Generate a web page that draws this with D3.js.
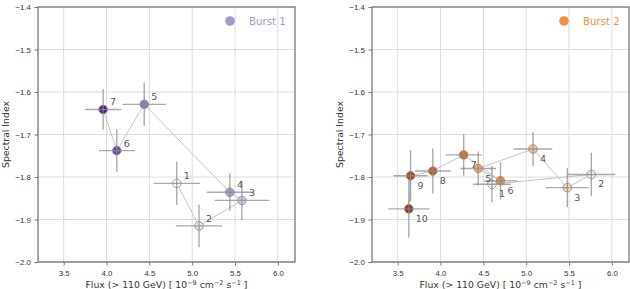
<!DOCTYPE html>
<html>
<head>
<meta charset="utf-8">
<script src="https://cdn.jsdelivr.net/npm/d3@7"></script>
<style>
  body { margin: 0; background: #fff; }
  svg { font-family: "DejaVu Sans", sans-serif; }
</style>
</head>
<body>
<script>
// burst 1
let b1Flux  = [4.82, 5.08, 5.58, 5.44, 4.44, 4.12, 3.96]
let b1FluxErr = [0.27, 0.27, 0.32, 0.27, 0.255, 0.21, 0.21]
let b1Index = [-1.815, -1.915, -1.855, -1.836, -1.629, -1.738, -1.641]
let b1IndexErr = [0.051, 0.05, 0.046, 0.044, 0.051, 0.05, 0.048]

// burst 2
let b2Flux  = [4.60, 5.76, 5.48, 5.08, 4.44, 4.70, 4.27, 3.91, 3.65, 3.63]
let b2FluxErr = [0.22, 0.28, 0.25, 0.225, 0.21, 0.195, 0.21, 0.21, 0.2, 0.24]
let b2Index = [-1.817, -1.794, -1.825, -1.734, -1.780, -1.809, -1.748, -1.786, -1.797, -1.875]
let b2IndexErr = [0.043, 0.051, 0.046, 0.04, 0.04, 0.044, 0.049, 0.053, 0.06, 0.068]

let xTicks = [3.5, 4.0, 4.5, 5.0, 5.5, 6.0]
let yTicks = [-1.4, -1.5, -1.6, -1.7, -1.8, -1.9, -2.0]

let width = 630
let height = 289

let svg = d3.select("body").append("svg")
    .attr("width", width)
    .attr("height", height)

drawPanel({
    flux: b1Flux, fluxErr: b1FluxErr, index: b1Index, indexErr: b1IndexErr,
    left: 38, right: 295, cmap: d3.interpolatePurples,
    name: "Burst 1", labelDx: 7, labelDy: -4, legendX: 230
})
drawPanel({
    flux: b2Flux, fluxErr: b2FluxErr, index: b2Index, indexErr: b2IndexErr,
    left: 372, right: 629, cmap: d3.interpolateOranges,
    name: "Burst 2", labelDx: 7, labelDy: 13, legendX: 564
})

function drawPanel(p) {
    let top = 7, bottom = 262
    let n = p.flux.length
    let pts = d3.range(n).map(i => ({
        i: i, x: p.flux[i], xe: p.fluxErr[i], y: p.index[i], ye: p.indexErr[i]
    }))

    let x = d3.scaleLinear().domain([3.2, 6.2]).range([p.left, p.right])
    let y = d3.scaleLinear().domain([-2.0, -1.4]).range([bottom, top])

    let g = svg.append("g")

    // grid
    g.append("g").selectAll("line").data(xTicks).enter().append("line")
        .attr("x1", d => x(d)).attr("x2", d => x(d))
        .attr("y1", top).attr("y2", bottom)
        .attr("stroke", "#dcdcdc").attr("stroke-width", 1)
    g.append("g").selectAll("line").data(yTicks).enter().append("line")
        .attr("x1", p.left).attr("x2", p.right)
        .attr("y1", d => y(d)).attr("y2", d => y(d))
        .attr("stroke", "#dcdcdc").attr("stroke-width", 1)

    // axes
    let xAxis = g.append("g")
        .attr("transform", `translate(0,${bottom})`)
        .call(d3.axisBottom(x).tickValues(xTicks).tickFormat(d3.format(".1f")).tickSizeOuter(0).tickSize(3.5))
    let yAxis = g.append("g")
        .attr("transform", `translate(${p.left},0)`)
        .call(d3.axisLeft(y).tickValues(yTicks).tickFormat(d3.format(".1f")).tickSizeOuter(0).tickSize(3.5))
    ;[xAxis, yAxis].forEach(a => {
        a.select(".domain").remove()
        a.selectAll(".tick line").attr("stroke", "#555").attr("stroke-width", 0.8)
        a.selectAll(".tick text").attr("fill", "#333").style("font-size", "7.8px")
    })
    xAxis.selectAll(".tick text").attr("dy", "0.9em")
    yAxis.selectAll(".tick text").attr("dx", "-0.1em")

    // spines
    g.append("rect")
        .attr("x", p.left).attr("y", top)
        .attr("width", p.right - p.left).attr("height", bottom - top)
        .attr("fill", "none").attr("stroke", "#777").attr("stroke-width", 1.3)

    // axis labels
    let xl = g.append("text")
        .attr("x", (p.left + p.right) / 2).attr("y", 288)
        .attr("text-anchor", "middle").attr("fill", "#333")
        .style("font-size", "9.3px")
    xl.append("tspan").text("Flux (> 110 GeV) [ 10")
    xl.append("tspan").text("\u22129").attr("dy", -3.5).style("font-size", "6.5px")
    xl.append("tspan").text(" cm").attr("dy", 3.5)
    xl.append("tspan").text("\u22122").attr("dy", -3.5).style("font-size", "6.5px")
    xl.append("tspan").text(" s").attr("dy", 3.5)
    xl.append("tspan").text("\u22121").attr("dy", -3.5).style("font-size", "6.5px")
    xl.append("tspan").text(" ]").attr("dy", 3.5)

    g.append("text")
        .attr("transform", `translate(${p.left - 29},${(top + bottom) / 2}) rotate(-90)`)
        .attr("text-anchor", "middle").attr("fill", "#333")
        .style("font-size", "9.3px")
        .text("Spectral Index")

    // connecting line
    let line = d3.line().x(d => x(d.x)).y(d => y(d.y))
    g.append("path").datum(pts)
        .attr("d", line)
        .attr("fill", "none").attr("stroke", "#c4c4c4").attr("stroke-width", 1)

    // markers
    g.append("g").selectAll("circle").data(pts).enter().append("circle")
        .attr("cx", d => x(d.x)).attr("cy", d => y(d.y))
        .attr("r", 4.3)
        .attr("fill", d => p.cmap(d.i / (n - 1)))
        .attr("fill-opacity", 0.9)
        .attr("stroke", "#8a8a8a").attr("stroke-width", 0.8)

    // error bars
    let eb = g.append("g").attr("stroke", "#8c8c8c").attr("stroke-opacity", 0.75).attr("stroke-width", 1.4)
    eb.selectAll(".xe").data(pts).enter().append("line")
        .attr("x1", d => x(d.x - d.xe)).attr("x2", d => x(d.x + d.xe))
        .attr("y1", d => y(d.y)).attr("y2", d => y(d.y))
    eb.selectAll(".ye").data(pts).enter().append("line")
        .attr("x1", d => x(d.x)).attr("x2", d => x(d.x))
        .attr("y1", d => y(d.y - d.ye)).attr("y2", d => y(d.y + d.ye))

    // point numbers
    g.append("g").selectAll("text").data(pts).enter().append("text")
        .attr("x", d => x(d.x) + p.labelDx).attr("y", d => y(d.y) + p.labelDy)
        .attr("fill", "#555").style("font-size", "9.5px")
        .text(d => d.i + 1)

    // legend
    g.append("circle")
        .attr("cx", p.legendX).attr("cy", 21).attr("r", 4.8)
        .attr("fill", p.cmap(0.5))
    g.append("text")
        .attr("x", p.legendX + 19).attr("y", 24.5)
        .attr("fill", p.cmap(0.5)).style("font-size", "10.2px")
        .text(p.name)
}
</script>
</body>
</html>
